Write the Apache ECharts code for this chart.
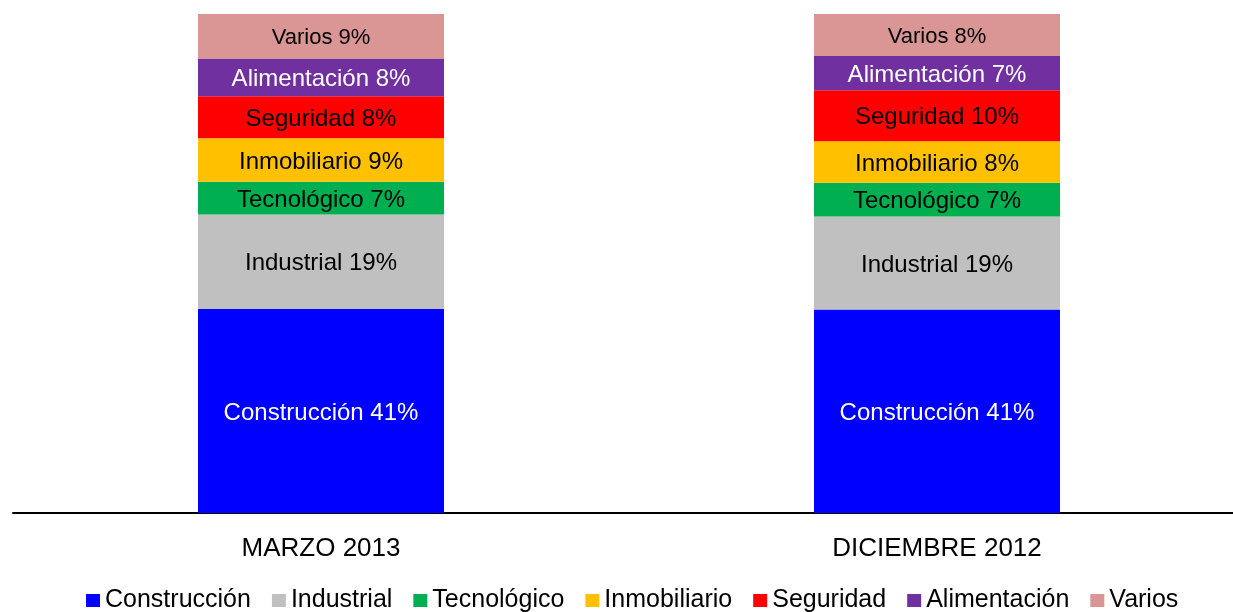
<!DOCTYPE html>
<html>
<head>
<meta charset="utf-8">
<script src="https://cdn.jsdelivr.net/npm/echarts@6/dist/echarts.min.js"></script>
<style>html,body{margin:0;padding:0;background:#fff}#c{width:1233px;height:612px}</style>
</head>
<body>
<div id="c"></div>
<script>
const categories = ['MARZO 2013', 'DICIEMBRE 2012'];
const seriesNames = ['Construcción', 'Industrial', 'Tecnológico', 'Inmobiliario', 'Seguridad', 'Alimentación', 'Varios'];
const construccion = [40.9, 40.8];
const industrial = [18.9, 18.6];
const tecnologico = [6.6, 6.8];
const inmobiliario = [8.7, 8.3];
const seguridad = [8.4, 10.2];
const alimentacion = [7.6, 6.9];
const varios = [8.9, 8.4];

const seriesValues = [construccion, industrial, tecnologico, inmobiliario, seguridad, alimentacion, varios];
const colors = ['#0000FF', '#C0C0C0', '#00B050', '#FFC000', '#FF0000', '#7030A0', '#D99694'];
const labelColors = ['#FFFFFF', '#000000', '#000000', '#000000', '#000000', '#FFFFFF', '#000000'];
const labelSizes = [24, 24, 24, 24, 24, 24, 22];
const FONT = '"Liberation Sans", Arial, sans-serif';

const chart = echarts.init(document.getElementById('c'), null, {renderer: 'canvas'});
chart.setOption({
  animation: false,
  backgroundColor: '#ffffff',
  color: colors,
  grid: {left: 13, width: 1232, top: 14, height: 499, containLabel: false, outerBoundsMode: 'none'},
  legend: {
    data: seriesNames,
    top: 588,
    left: 86,
    padding: 0,
    itemWidth: 14,
    itemHeight: 13,
    itemGap: 21,
    icon: 'rect',
    textStyle: {fontFamily: FONT, fontSize: 25, color: '#000'}
  },
  xAxis: {
    type: 'category',
    data: categories,
    axisLine: {show: true, lineStyle: {color: '#000', width: 2}},
    axisTick: {show: false},
    axisLabel: {fontFamily: FONT, fontSize: 26, color: '#000', margin: 23}
  },
  yAxis: {
    type: 'value', min: 0, max: 100, show: false,
    splitLine: {show: false}
  },
  series: seriesNames.map((name, i) => ({
    name: name,
    type: 'bar',
    stack: 'total',
    barWidth: 246,
    data: seriesValues[i],
    itemStyle: {color: colors[i]},
    label: {
      show: true,
      position: 'inside',
      offset: [0, 2],
      fontFamily: FONT,
      fontSize: labelSizes[i],
      color: labelColors[i],
      formatter: p => name + ' ' + Math.round(p.value) + '%'
    }
  }))
});
</script>
</body>
</html>
